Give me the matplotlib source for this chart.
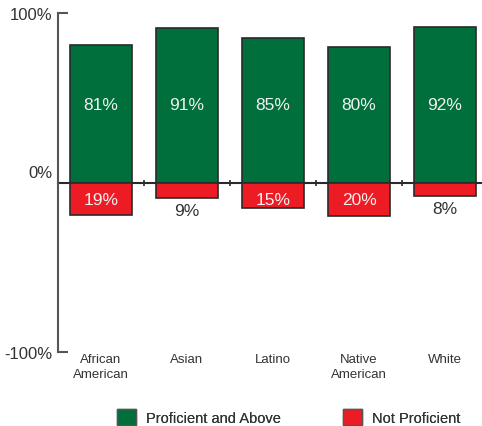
import matplotlib
matplotlib.use("Agg")
import matplotlib.pyplot as plt
from matplotlib.patches import Patch
import matplotlib.transforms as mtransforms

plt.rcParams['font.family'] = ['Liberation Sans', 'DejaVu Sans']

categories = ["African\nAmerican", "Asian", "Latino", "Native\nAmerican", "White"]
proficient = [81, 91, 85, 80, 92]
not_proficient = [19, 9, 15, 20, 8]
ytick_vals = [-100, 0, 100]
ytick_labels = ["-100%", "0%", "100%"]
legend_labels = ["Proficient and Above", "Not Proficient"]

GREEN = "#006f3b"
RED = "#ed1c24"
EDGE = "#2a2a2a"
TXT = "#333333"

fig = plt.figure(figsize=(4.82, 4.27), dpi=100)
ax = fig.add_axes([58/482, 1-353/427, (482-58)/482, (353-14)/427])

x = list(range(len(categories)))
w = 0.72
ax.bar(x, proficient, width=w, color=GREEN, edgecolor=EDGE, linewidth=1.2, zorder=2)
ax.bar(x, [-v for v in not_proficient], width=w, color=RED, edgecolor=EDGE, linewidth=1.2, zorder=2)

for i, (p, n) in enumerate(zip(proficient, not_proficient)):
    ax.text(i, 46, f"{p}%", ha='center', va='center', color='#f2f2f2', fontsize=12.5, zorder=3)
    if n >= 12:
        ax.text(i, -10, f"{n}%", ha='center', va='center', color='#f2f2f2', fontsize=12.5, zorder=3)
    else:
        ax.text(i, -n - 7.5, f"{n}%", ha='center', va='center', color=TXT, fontsize=12.5, zorder=3)

ax.set_xlim(-0.5, 4.43)
ax.set_ylim(-100, 100)

for s in ['top', 'right']:
    ax.spines[s].set_visible(False)
ax.spines['left'].set_color('#555555')
ax.spines['left'].set_linewidth(1.5)
ax.spines['bottom'].set_position(('data', 0))
ax.spines['bottom'].set_color(EDGE)
ax.spines['bottom'].set_linewidth(1.5)
ax.spines['bottom'].set_zorder(1)

ax.set_xticks([])
ax.set_xticks([i + 0.5 for i in range(len(categories) - 1)], minor=True)
ax.tick_params(axis='x', which='minor', direction='inout', length=5, width=1.2, color=EDGE)

ax.set_yticks(ytick_vals)
ax.set_yticklabels(ytick_labels)
ax.tick_params(axis='y', direction='in', length=7, width=1.5, color='#555555', labelsize=12, labelcolor=TXT, pad=4)
ticks = ax.yaxis.get_major_ticks()
ticks[1].tick1line.set_visible(False)
ticks[1].label1.set_transform(ticks[1].label1.get_transform() +
                              mtransforms.ScaledTranslation(0, 11/100, fig.dpi_scale_trans))

for i, c in enumerate(categories):
    ax.text(i, -100, c, ha='center', va='top', color=TXT, fontsize=9.5, linespacing=1.3,
            transform=ax.transData + mtransforms.ScaledTranslation(0, -1/100, fig.dpi_scale_trans))

colors = [GREEN, RED]
anchors_x = [117/482, 343/482]
for lab, col, ax_x in zip(legend_labels, colors, anchors_x):
    lg = fig.legend([Patch(facecolor=col, edgecolor='#555555', linewidth=1)], [lab],
                    loc='center left', bbox_to_anchor=(ax_x, 1-418/427), frameon=False,
                    borderpad=0, borderaxespad=0, fontsize=10.5, handlelength=1.3,
                    handleheight=1.3, handletextpad=0.7, labelcolor=TXT)
    fig.add_artist(lg)

fig.savefig("out.png", dpi=100)
